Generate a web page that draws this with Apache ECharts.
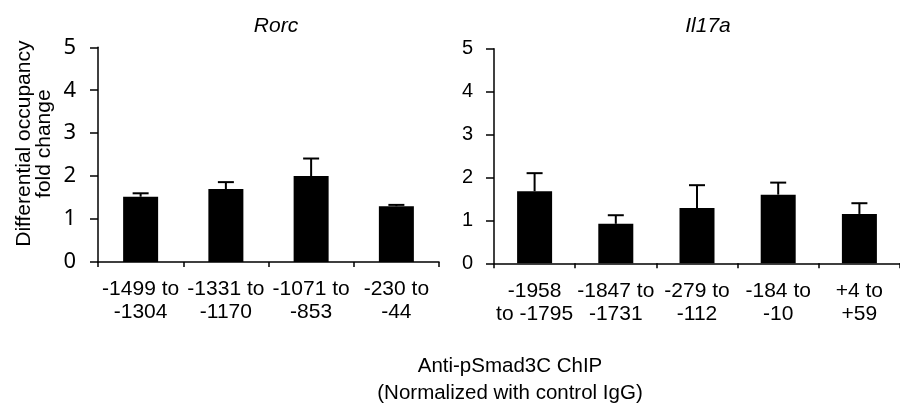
<!DOCTYPE html>
<html>
<head>
<meta charset="utf-8">
<script src="https://cdn.jsdelivr.net/npm/echarts@6/dist/echarts.min.js"></script>
<style>html,body{margin:0;padding:0;background:#fff}#c{width:900px;height:408px}</style>
</head>
<body>
<div id="c"></div>
<script>
const rorcCategories = ['-1499 to\n-1304', '-1331 to\n-1170', '-1071 to\n-853', '-230 to\n-44'];
const rorcValues = [1.52, 1.70, 2.00, 1.30];
const rorcErrors = [0.08, 0.16, 0.41, 0.03];
const il17aCategories = ['-1958\nto -1795', '-1847 to\n-1731', '-279 to\n-112', '-184 to\n-10', '+4 to\n+59'];
const il17aValues = [1.68, 0.92, 1.29, 1.60, 1.15];
const il17aErrors = [0.42, 0.20, 0.53, 0.28, 0.25];
const yTicks = [0, 1, 2, 3, 4, 5];

const FONT = 'Liberation Sans, Arial, sans-serif';
const chart = echarts.init(document.getElementById('c'), null, {renderer: 'canvas'});

function errData(vals, errs) { return vals.map((v, i) => [i, v, errs[i]]); }
function errRender(params, api) {
  const i = api.value(0), v = api.value(1), e = api.value(2);
  const b = api.coord([i, v]);
  const t = api.coord([i, v + e]);
  const hw = 8;
  return {type: 'group', children: [
    {type: 'line', shape: {x1: b[0], y1: b[1], x2: t[0], y2: t[1]}, style: {stroke: '#000', lineWidth: 2}},
    {type: 'line', shape: {x1: t[0] - hw, y1: t[1], x2: t[0] + hw, y2: t[1]}, style: {stroke: '#000', lineWidth: 2}}
  ]};
}
function xAxisFor(idx, cats) {
  return {
    type: 'category', gridIndex: idx, data: cats, boundaryGap: true,
    axisLine: {lineStyle: {color: '#000', width: 1.5}},
    axisTick: {show: true, length: 5, alignWithLabel: false, interval: 0, lineStyle: {color: '#000', width: 1.5}},
    axisLabel: {interval: 0, margin: 16, color: '#000', fontFamily: FONT, fontSize: 21, lineHeight: 23}
  };
}
function yAxisFor(idx, font, size, margin) {
  return {
    type: 'value', gridIndex: idx, min: yTicks[0], max: yTicks[yTicks.length - 1], interval: 1,
    splitLine: {show: false},
    axisLine: {show: true, lineStyle: {color: '#000', width: 1.5}},
    axisTick: {show: true, length: 8, lineStyle: {color: '#000', width: 1.5}},
    axisLabel: {margin: margin, color: '#000', fontFamily: font, fontSize: size}
  };
}

const yLeft = yAxisFor(0, 'Noto Sans, DejaVu Sans, sans-serif', 22, 22);
yLeft.name = 'Differential occupancy\nfold change';
yLeft.nameLocation = 'middle';
yLeft.nameRotate = 90;
yLeft.nameGap = 44;
yLeft.nameTextStyle = {color: '#000', fontFamily: FONT, fontSize: 21, lineHeight: 20, padding: [0, 0, 0, 22]};

chart.setOption({
  backgroundColor: '#fff',
  animation: false,
  title: [
    {text: 'Rorc', left: 271, top: 11, textAlign: 'center', textStyle: {fontFamily: FONT, fontStyle: 'italic', fontWeight: 'normal', fontSize: 21, lineHeight: 21, color: '#000'}},
    {text: 'Il17a', left: 703, top: 11, textAlign: 'center', textStyle: {fontFamily: FONT, fontStyle: 'italic', fontWeight: 'normal', fontSize: 21, lineHeight: 21, color: '#000'}},
    {text: 'Anti-pSmad3C ChIP', left: 505, top: 351, textAlign: 'center', textStyle: {fontFamily: FONT, fontWeight: 'normal', fontSize: 20.5, lineHeight: 21, color: '#000'}},
    {text: '(Normalized with control IgG)', left: 505, top: 378, textAlign: 'center', textStyle: {fontFamily: FONT, fontWeight: 'normal', fontSize: 20.5, lineHeight: 21, color: '#000'}}
  ],
  grid: [
    {left: 98, top: 47.3, width: 341, height: 214.7},
    {left: 494, top: 48.7, width: 415, height: 214.6}
  ],
  xAxis: [xAxisFor(0, rorcCategories), xAxisFor(1, il17aCategories)],
  yAxis: [yLeft, yAxisFor(1, FONT, 20, 21)],
  series: [
    {type: 'bar', xAxisIndex: 0, yAxisIndex: 0, data: rorcValues, barWidth: 35, itemStyle: {color: '#000'}},
    {type: 'custom', xAxisIndex: 0, yAxisIndex: 0, data: errData(rorcValues, rorcErrors), renderItem: errRender, z: 3},
    {type: 'bar', xAxisIndex: 1, yAxisIndex: 1, data: il17aValues, barWidth: 35, itemStyle: {color: '#000'}},
    {type: 'custom', xAxisIndex: 1, yAxisIndex: 1, data: errData(il17aValues, il17aErrors), renderItem: errRender, z: 3}
  ]
});
</script>
</body>
</html>
